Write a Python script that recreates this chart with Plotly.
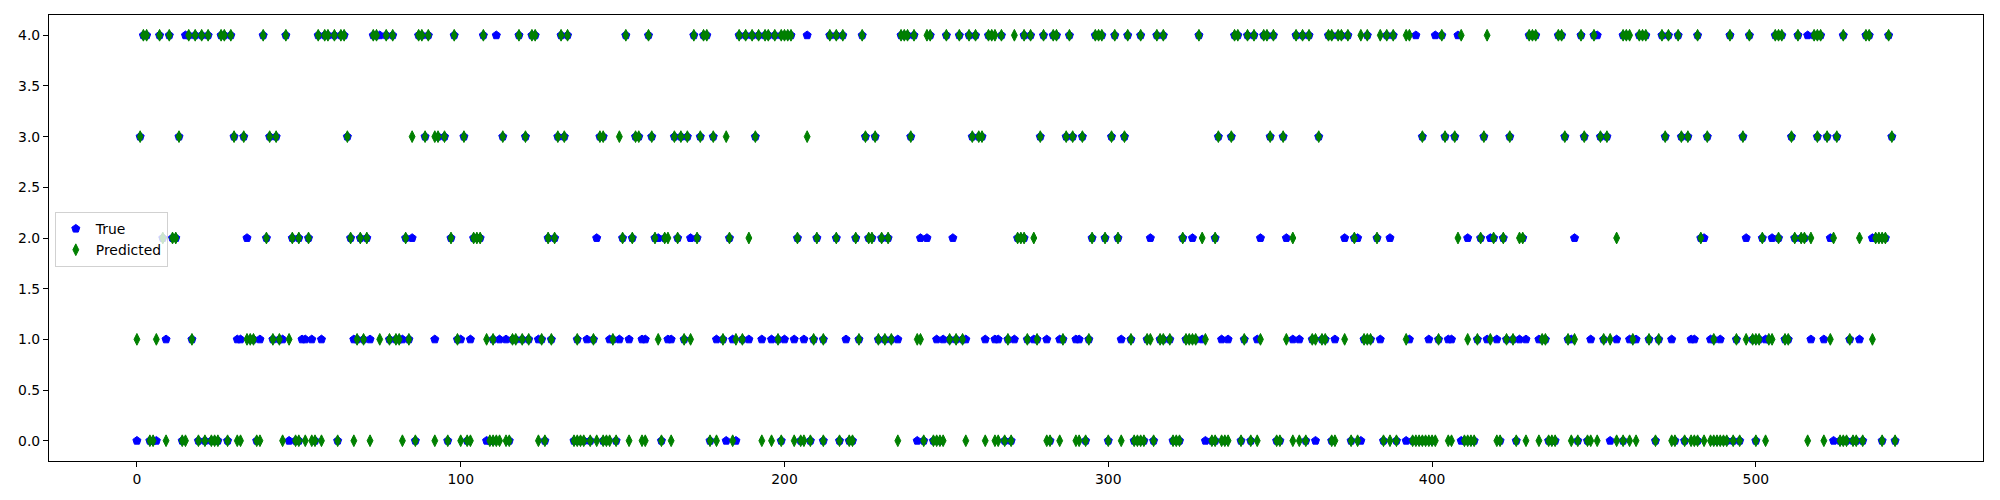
import plotly.graph_objects as go

# Sample index range
n_samples = 544

# Predicted class, grouped by the class row where the green marker sits (sample indices)
pred_class0 = [4, 5, 9, 14, 15, 19, 21, 23, 24, 25, 28, 31, 32, 37, 38, 45, 49, 50, 52, 54, 55, 57, 62, 67, 72,
               82, 86, 92, 96, 100, 102, 103, 109, 110, 111, 112, 114, 115, 124, 126, 135, 136, 137, 138, 140,
               142, 144, 145, 146, 148, 152, 156, 157, 162, 165, 177, 179, 184, 193, 196, 199, 203, 205, 206,
               208, 212, 217, 220, 221, 235, 243, 246, 247, 248, 249, 256, 262, 265, 266, 268, 270, 281, 282,
               285, 290, 291, 293, 300, 304, 308, 309, 310, 311, 314, 320, 321, 322, 332, 333, 335, 336, 337,
               341, 344, 346, 352, 353, 357, 359, 361, 369, 370, 375, 377, 385, 387, 389, 394, 395, 396, 397,
               398, 399, 400, 401, 405, 406, 410, 411, 412, 413, 420, 421, 426, 429, 433, 436, 437, 438, 443,
               445, 448, 449, 451, 457, 459, 461, 463, 469, 474, 475, 478, 480, 481, 482, 484, 486, 487, 488,
               489, 490, 491, 493, 495, 500, 503, 516, 521, 526, 527, 528, 530, 531, 533, 539, 543]
pred_class1 = [0, 6, 17, 34, 35, 36, 42, 44, 47, 68, 70, 75, 78, 80, 81, 84, 99, 108, 110, 116, 117, 119, 121,
               125, 128, 136, 141, 147, 161, 169, 171, 181, 185, 187, 198, 209, 212, 223, 229, 231, 233, 241,
               242, 251, 253, 255, 269, 275, 278, 286, 294, 307, 312, 313, 316, 317, 319, 324, 325, 326, 327,
               330, 342, 347, 355, 363, 364, 366, 367, 373, 379, 380, 381, 392, 402, 411, 414, 418, 423, 425,
               434, 435, 442, 444, 453, 455, 462, 467, 470, 487, 494, 497, 499, 500, 501, 504, 505, 509, 510,
               523, 529, 536]
pred_class2 = [8, 11, 12, 40, 48, 50, 53, 66, 69, 71, 83, 97, 104, 105, 106, 127, 129, 150, 153, 160, 163, 164,
               167, 173, 183, 189, 204, 210, 216, 222, 226, 227, 230, 232, 272, 273, 274, 277, 295, 299, 303,
               323, 329, 333, 357, 376, 383, 408, 415, 419, 422, 427, 428, 457, 483, 502, 507, 512, 514, 515,
               517, 524, 532, 537, 538, 539, 540]
pred_class3 = [1, 13, 30, 33, 41, 43, 65, 85, 89, 92, 93, 95, 101, 113, 120, 130, 132, 143, 144, 149, 154, 155,
               159, 166, 168, 170, 174, 178, 182, 191, 207, 225, 228, 239, 258, 260, 261, 279, 287, 289, 292,
               301, 305, 334, 338, 350, 354, 365, 397, 404, 407, 416, 424, 441, 447, 452, 454, 472, 477, 479,
               485, 496, 511, 519, 522, 525, 542]
pred_class4 = [2, 3, 7, 10, 16, 18, 20, 22, 26, 27, 29, 39, 46, 56, 58, 59, 61, 63, 64, 73, 74, 77, 79, 87, 88,
               90, 98, 107, 118, 122, 123, 131, 133, 151, 158, 172, 175, 176, 186, 188, 190, 192, 194, 195, 197,
               199, 200, 201, 202, 214, 216, 218, 224, 236, 237, 238, 240, 244, 245, 250, 254, 257, 259, 263,
               264, 265, 267, 271, 274, 276, 280, 283, 284, 288, 296, 297, 298, 302, 306, 310, 315, 317, 328,
               339, 340, 343, 345, 348, 349, 351, 358, 360, 362, 368, 369, 371, 372, 374, 378, 380, 384, 386,
               388, 392, 393, 403, 409, 417, 430, 431, 432, 439, 440, 446, 450, 459, 460, 461, 464, 465, 466,
               471, 473, 476, 482, 492, 498, 506, 507, 508, 513, 518, 519, 520, 527, 534, 535, 541]

# True class where it differs from the prediction (visible blue markers)
true_miss_class0 = [0, 6, 47, 108, 182, 185, 241, 330, 364, 378, 392, 409, 455, 524]
true_miss_class1 = [9, 31, 32, 38, 45, 51, 52, 54, 57, 67, 72, 82, 92, 100, 103, 112, 114, 124, 139, 146, 149,
                    152, 156, 157, 164, 165, 179, 184, 189, 193, 196, 200, 203, 206, 219, 235, 247, 249, 256,
                    262, 265, 266, 271, 277, 281, 285, 290, 291, 304, 329, 335, 337, 346, 357, 359, 370, 384,
                    393, 399, 405, 406, 417, 420, 427, 429, 433, 443, 449, 457, 461, 463, 474, 480, 481, 486,
                    489, 503, 517, 521, 532]
true_miss_class2 = [34, 85, 142, 161, 171, 242, 244, 252, 313, 326, 347, 355, 373, 377, 387, 411, 418, 444,
                    484, 497, 505, 523, 536]
true_miss_class3 = []
true_miss_class4 = [15, 75, 111, 207, 395, 401, 408, 451, 516]

pred_rows = [pred_class0, pred_class1, pred_class2, pred_class3, pred_class4]
miss_rows = [true_miss_class0, true_miss_class1, true_miss_class2, true_miss_class3, true_miss_class4]

pred_x, pred_y = [], []
for cls, xs in enumerate(pred_rows):
    pred_x += xs
    pred_y += [cls] * len(xs)

miss_set = set(x for xs in miss_rows for x in xs)
true_x, true_y = [], []
for cls, xs in enumerate(pred_rows):
    for x in xs:
        if x not in miss_set:
            true_x.append(x)
            true_y.append(cls)
for cls, xs in enumerate(miss_rows):
    true_x += xs
    true_y += [cls] * len(xs)

FONT = "DejaVu Sans"
fig = go.Figure()
fig.add_trace(go.Scatter(
    x=true_x, y=true_y, mode="markers", name="True",
    marker=dict(symbol="pentagon", size=8.5, color="#0000ff", line=dict(color="#0000ff", width=1)),
))
fig.add_trace(go.Scatter(
    x=pred_x, y=pred_y, mode="markers", name="Predicted",
    marker=dict(symbol="diamond-tall", size=8.4, color="#008000", line=dict(color="#008000", width=1)),
))

x_lo = -0.05 * (n_samples - 1)
x_hi = (n_samples - 1) * 1.05
fig.update_layout(
    width=1992, height=492,
    margin=dict(l=40.5, r=17, t=7, b=38.5, pad=0, autoexpand=False),
    plot_bgcolor="white", paper_bgcolor="white",
    font=dict(family=FONT, size=13.9, color="black"),
    showlegend=True,
    legend=dict(x=0.003, y=0.558, xanchor="left", yanchor="top",
                bgcolor="rgba(255,255,255,0.8)", bordercolor="rgba(204,204,204,0.9)", borderwidth=1,
                font=dict(family=FONT, size=13.9), tracegroupgap=0),
)
fig.update_xaxes(range=[x_lo, x_hi], tickvals=[0, 100, 200, 300, 400, 500], automargin=False,
                 ticks="outside", ticklen=5, tickwidth=1.1, tickcolor="black",
                 showgrid=False, zeroline=False, showline=True, mirror=True,
                 linecolor="black", linewidth=1.1)
fig.update_yaxes(range=[-0.2, 4.2], tickvals=[0, 0.5, 1, 1.5, 2, 2.5, 3, 3.5, 4], tickformat=".1f",
                 automargin=False,
                 ticks="outside", ticklen=5, tickwidth=1.1, tickcolor="black",
                 showgrid=False, zeroline=False, showline=True, mirror=True,
                 linecolor="black", linewidth=1.1)

fig.write_html("out.html")
